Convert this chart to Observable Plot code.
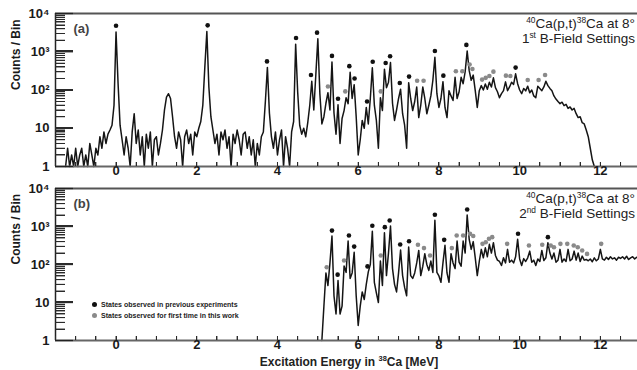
<!DOCTYPE html>
<html><head><meta charset="utf-8">
<script src="https://cdn.jsdelivr.net/npm/d3@7"></script>
<script src="https://cdn.jsdelivr.net/npm/@observablehq/plot@0.6"></script>
<style>
body{margin:0;background:#fff;}
#chart{position:relative;width:637px;height:370px;overflow:hidden;font-family:"Liberation Sans",Arial,sans-serif;}
#chart svg{display:block;}
.leg{position:absolute;left:92px;font:bold 7px "Liberation Sans",Arial,sans-serif;color:#222;white-space:nowrap;line-height:8px;}
.leg i{display:inline-block;width:5px;height:5px;border-radius:50%;margin-right:4px;vertical-align:0px;}
.tk{position:absolute;background:#2a2a2a;pointer-events:none;}
</style></head><body><div id="chart"></div>
<script>
// ---- data ----
const binWidth = 0.05;            // MeV per bin
const binStartA = -1.25;          // first bin, panel (a)
const binStartB = 5.10;           // first bin, panel (b)

// panel (a): 1st B-field setting, counts per bin
const countsA = [
  1,3,1,2,1,3,1,2,3,1,2,1,4,2,1,3,2,6,3,8,
  4,7,9,12,40,3300,150,12,5,2,6,3,1,8,24,4,9,2,6,1,
  7,3,8,1,5,6,2,4,9,30,65,80,60,20,6,3,8,5,1,6,
  9,4,7,2,8,6,10,15,40,400,3400,120,20,9,4,7,2,8,5,9,
  3,6,1,7,4,9,5,2,7,8,3,6,2,5,1,4,2,6,8,50,
  390,25,6,3,8,2,5,9,1,6,3,1,8,15,1580,90,12,7,10,6,
  14,40,170,30,250,2180,80,13,20,45,85,30,540,25,7,41,4,18,29,63,
  44,290,60,138,20,2,5,16,10,35,13,60,380,40,16,3,63,29,350,115,
  160,520,45,16,30,60,105,24,12,3,155,60,29,50,120,19,40,120,60,24,
  40,70,180,720,80,35,60,165,35,19,96,70,53,215,60,90,215,146,300,1040,
  320,180,245,96,35,96,130,100,143,105,160,120,208,115,90,63,80,96,163,96,
  120,160,140,265,146,100,80,110,95,126,85,100,70,63,126,110,96,120,170,130,
  110,96,70,58,50,44,48,39,42,33,36,30,33,24,19,20,14,13,9,6,
  3,1.5,1
];

// panel (b): 2nd B-field setting, counts per bin
const countsB = [
  1,8,60,28,110,560,15,5,38,5,8,91,62,415,43,60,210,15,2.5,8,
  19,12,30,64,100,750,34,18,10,123,28,685,51,200,1030,78,30,19,60,240,
  51,25,15,290,51,43,60,110,235,51,90,193,100,70,123,62,1450,62,50,34,
  110,320,60,34,193,110,78,415,115,90,415,200,2000,460,250,400,150,51,120,250,
  150,275,160,340,200,375,173,130,120,94,150,110,250,115,130,110,160,460,140,94,
  143,120,150,225,115,130,94,140,120,235,127,150,375,200,140,200,115,130,250,115,
  140,120,250,125,140,225,130,200,120,166,130,136,125,140,118,150,125,140,250,140,
  130,155,135,160,140,150,130,155,145,160,140,165,135,150,160,140,155,160
];

// identified states (marker positions), panel (a)
const statesEnergyA = [0.00,2.27,3.74,4.46,4.83,4.98,5.25,5.35,5.50,5.68,5.78,5.91,6.22,6.36,6.56,6.68,6.79,7.03,7.26,7.46,7.62,7.90,8.11,8.42,8.58,8.68,8.76,8.83,9.07,9.16,9.25,9.35,9.66,9.77,9.90,10.20,10.47,10.63];
const statesCountsA = [4800,4900,560,2290,247,3160,123,780,59,92,420,200,50,550,92,510,760,153,224,174,174,1050,237,310,310,1510,465,355,187,208,232,302,237,232,385,183,183,247];
const statesKindA = ["prev","prev","prev","prev","prev","prev","new","prev","prev","new","prev","prev","prev","prev","new","prev","prev","prev","prev","new","new","prev","prev","new","new","prev","new","new","new","new","new","new","new","new","prev","new","new","new"];

// identified states (marker positions), panel (b)
const statesEnergyB = [5.22,5.35,5.49,5.65,5.77,5.90,6.23,6.35,6.56,6.66,6.78,7.04,7.26,7.48,7.63,7.78,7.90,8.13,8.32,8.44,8.60,8.70,8.77,8.85,9.08,9.16,9.24,9.32,9.69,9.96,10.23,10.56,10.70,10.77,10.85,11.01,11.18,11.34,11.44,11.55,11.67,12.02];
const statesCountsB = [85,780,54,128,580,296,89,1050,172,960,1440,335,410,330,270,172,2030,445,270,580,580,2800,640,560,350,385,475,525,350,645,316,330,525,316,285,350,350,316,285,233,190,350];
const statesKindB = ["new","prev","prev","new","prev","prev","prev","prev","new","prev","prev","prev","prev","new","new","new","prev","prev","new","new","new","prev","new","new","new","new","new","new","new","prev","new","new","prev","new","new","new","new","new","new","new","new","new"];

// axes
const xDomain = [-1.5, 12.92];
const xLabelTicks = [0, 2, 4, 6, 8, 10, 12];
const yMajorTicks = [1, 10, 100, 1000, 10000];
const yTickLabels = ["1", "10", "10²", "10³", "10⁴"];

// ---- drawing ----
const FONT = "'Liberation Sans', Arial, Helvetica, sans-serif";
const W = 637, ML = 55, MR = 0;
const plotW = W - ML - MR;
const xMinorTicks = d3.range(-1.5, 12.91, 0.5);
const yMinorTicks = [];
for (const d of [1, 10, 100, 1000]) for (let m = 2; m <= 9; m++) yMinorTicks.push(d * m);

function supText(svg, x, y, parts, size, anchor) {
  const t = d3.select(svg).append("text")
    .attr("x", x).attr("y", y)
    .attr("font-family", FONT).attr("fill", "#222")
    .attr("text-anchor", anchor || "start");
  let shifted = false;
  for (const [s, sup, bold] of parts) {
    const ts = t.append("tspan").text(s);
    if (bold) ts.attr("font-weight", "bold");
    if (sup && !shifted) { ts.attr("font-size", size * 0.62).attr("dy", -size * 0.38); shifted = true; }
    else if (!sup && shifted) { ts.attr("font-size", size).attr("dy", size * 0.38); shifted = false; }
    else ts.attr("font-size", sup ? size * 0.62 : size);
  }
  return t;
}

function panel(o) {
  const plotH = o.height - o.mt - o.mb;
  const spectrum = o.counts.map((c, i) => ({e: +(o.start + i * binWidth).toFixed(2), c}));
  const states = o.sE.map((e, i) => ({e, c: o.sC[i], k: o.sK[i]}));
  const svg = Plot.plot({
    width: W, height: o.height,
    marginLeft: ML, marginRight: MR, marginTop: o.mt, marginBottom: o.mb,
    x: {domain: xDomain, axis: null, label: null},
    y: {type: "log", domain: [1, 1e4], axis: null, label: null},
    style: {fontFamily: FONT, background: "white", color: "#1a1a1a"},
    marks: [
      Plot.line(spectrum, {x: "e", y: "c", stroke: "#151515", strokeWidth: 1.5}),
      Plot.dot(states.filter(d => d.k === "prev"), {x: "e", y: "c", r: 2.3, fill: "#111", stroke: "none"}),
      Plot.dot(states.filter(d => d.k === "new"), {x: "e", y: "c", r: 2.3, fill: "#8a8a8a", stroke: "none"}),
      Plot.ruleX([xDomain[0]], {stroke: "#222", strokeWidth: 1.5}),
      Plot.ruleY([1], {stroke: "#666", strokeWidth: 2}),
      Plot.ruleY([1e4], {stroke: "#555", strokeWidth: 2.2}),
      Plot.tickY(yMinorTicks, {y: d => d, insetRight: plotW - 10, stroke: "#2a2a2a", strokeWidth: 1}),
      Plot.tickY(yMajorTicks, {y: d => d, insetRight: plotW - 18, stroke: "#222", strokeWidth: 1.3}),
      Plot.tickX(xMinorTicks, {x: d => d, insetTop: plotH - 4, stroke: "#2a2a2a", strokeWidth: 1}),
      Plot.text(yMajorTicks, {y: d => d, text: d => yTickLabels[yMajorTicks.indexOf(d)], frameAnchor: "left",
        textAnchor: "end", dx: -6, fontSize: 13, fontWeight: "bold"}),
      Plot.text(xLabelTicks, {x: d => d, text: d => String(d), frameAnchor: "bottom", dy: 8.5,
        fontSize: 13, fontWeight: "bold"}),
      Plot.text([o.tag], {frameAnchor: "top-left", dx: 18, dy: 10, fontSize: 13, fontWeight: "bold", fill: "#444"}),
      Plot.text(["Counts / Bin"], {frameAnchor: "left", rotate: -90, dx: -39, fontSize: 12, fontWeight: "bold"})
    ]
  });
  supText(svg, 635, o.mt + 15, [["40", true], ["Ca(p,t)", false], ["38", true], ["Ca at 8°", false]], 13.5, "end");
  supText(svg, 635, o.mt + 30, [[o.ord[0], false], [o.ord[1], true], [" B-Field Settings", false]], 13.5, "end");
  return svg;
}

// inward tick marks as an overlay, placed with each plot's own scales
function overlayTicks(container, svg, top, o) {
  const x = svg.scale("x"), y = svg.scale("y");
  const add = (l, t, w, h) => {
    const d = document.createElement("div");
    d.className = "tk";
    d.style.left = l + "px"; d.style.top = t + "px"; d.style.width = w + "px"; d.style.height = h + "px";
    container.appendChild(d);
  };
  for (const v of yMinorTicks) add(ML, top + Math.round(y.apply(v)), 10, 1);
  for (const v of yMajorTicks) if (v > 1 && v < 1e4) add(ML, top + Math.round(y.apply(v)) - 1, 18, 2);
  const yb = top + o.height - o.mb;
  for (const v of xMinorTicks) if (v > xDomain[0]) add(Math.round(x.apply(v)), yb - 4, 1, 4);
}

const chart = document.getElementById("chart");
const optA = {counts: countsA, start: binStartA, sE: statesEnergyA, sC: statesCountsA, sK: statesKindA,
  height: 182, mt: 13, mb: 16, tag: "(a)", ord: ["1", "st"]};
const optB = {counts: countsB, start: binStartB, sE: statesEnergyB, sC: statesCountsB, sK: statesKindB,
  height: 188, mt: 6, mb: 30, tag: "(b)", ord: ["2", "nd"]};
const svgA = panel(optA);
const svgB = panel(optB);
supText(svgB, 349, 184, [["Excitation Energy in ", false, true], ["38", true, true], ["Ca [MeV]", false, true]], 12, "middle");
chart.appendChild(svgA);
chart.appendChild(svgB);
overlayTicks(chart, svgA, 0, optA);
overlayTicks(chart, svgB, optA.height, optB);

const leg1 = document.createElement("div");
leg1.className = "leg"; leg1.style.top = "301px";
leg1.innerHTML = '<i style="background:#111"></i>States observed in previous experiments';
const leg2 = document.createElement("div");
leg2.className = "leg"; leg2.style.top = "312px";
leg2.innerHTML = '<i style="background:#8a8a8a"></i>States observed for first time in this work';
chart.appendChild(leg1);
chart.appendChild(leg2);
</script></body></html>
